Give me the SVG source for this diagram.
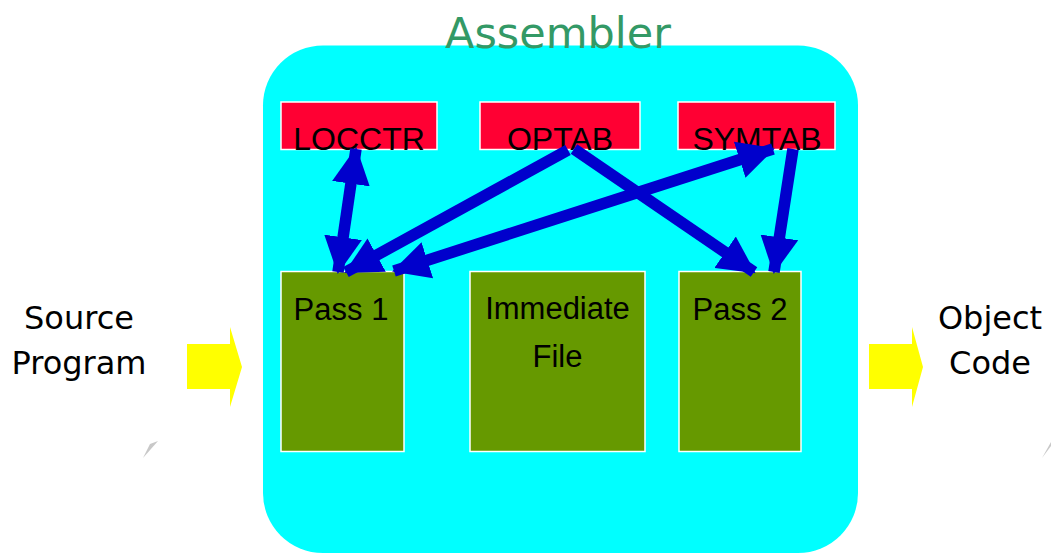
<svg xmlns="http://www.w3.org/2000/svg" width="1051" height="553" viewBox="0 0 1051 553">
<style>
.tab{fill:#FF0033;stroke:#FFFFFF;stroke-width:1.5}
.pass{fill:#669900;stroke:#FFFFFF;stroke-width:1.5}
.lbl{font-family:"Liberation Sans",Arial,sans-serif;font-size:31px;fill:#000;text-anchor:middle}
.tlbl{font-family:"Liberation Sans",Arial,sans-serif;font-size:32px;fill:#000;text-anchor:middle}
.side{font-family:"DejaVu Sans",Verdana,sans-serif;font-size:32px;fill:#000;text-anchor:middle}
.conn{stroke:#0000CC;stroke-width:11.5;fill:none}
.yarrow{fill:#FFFF00}
.wedge{fill:#C8C8C8}
</style>
<defs>
<marker id="ah" markerUnits="userSpaceOnUse" markerWidth="38" markerHeight="38" viewBox="0 0 38 38" refX="35" refY="19" orient="auto-start-reverse">
<path d="M0,0 L37,19 L0,38 Z" fill="#0000CC"/>
</marker>
</defs>
<rect id="assembler-box" x="263" y="45.5" width="595" height="507.5" rx="60" ry="60" fill="#00FFFF"/>
<text id="assembler-title" x="558" y="48" font-family="'DejaVu Sans',Verdana,sans-serif" font-size="43" fill="#339966" text-anchor="middle">Assembler</text>
<g id="locctr"><rect class="tab" x="281" y="102" width="156" height="47.5"/><text class="tlbl" x="359" y="150">LOCCTR</text></g>
<g id="optab"><rect class="tab" x="480" y="102" width="160" height="47.5"/><text class="tlbl" x="560" y="150">OPTAB</text></g>
<g id="symtab"><rect class="tab" x="678" y="102" width="157" height="47.5"/><text class="tlbl" x="757" y="150">SYMTAB</text></g>
<g id="pass1"><rect class="pass" x="281" y="271.5" width="123" height="180"/><text class="lbl" x="341" y="320">Pass 1</text></g>
<g id="immediate"><rect class="pass" x="470" y="271.5" width="175" height="180"/><text class="lbl" x="557.5" y="319">Immediate</text><text class="lbl" x="557.5" y="367">File</text></g>
<g id="pass2"><rect class="pass" x="679" y="271.5" width="122" height="180"/><text class="lbl" x="740" y="320">Pass 2</text></g>
<g id="source"><text class="side" x="79" y="329">Source</text><text class="side" x="79" y="374">Program</text>
<polygon class="yarrow" points="187,344 230,344 230,327 242,367 230,407 230,389 187,389"/>
<polygon class="wedge" points="143,458 158,441 150,444"/></g>
<g id="object"><text class="side" x="990" y="329">Object</text><text class="side" x="990" y="374">Code</text>
<polygon class="yarrow" points="869,344 912,344 912,327 923,367 912,407 912,389 869,389"/>
<polygon class="wedge" points="1042,458 1051,442 1051,446"/></g>
<g id="connectors">
<line class="conn" x1="356" y1="149" x2="338" y2="272" marker-start="url(#ah)" marker-end="url(#ah)"/>
<line class="conn" x1="568" y1="150" x2="346" y2="272" marker-end="url(#ah)"/>
<line class="conn" x1="773" y1="149" x2="394" y2="271" marker-start="url(#ah)" marker-end="url(#ah)"/>
<line class="conn" x1="574" y1="149" x2="754" y2="272" marker-end="url(#ah)"/>
<line class="conn" x1="793" y1="149" x2="774" y2="272" marker-end="url(#ah)"/>
</g>
</svg>
